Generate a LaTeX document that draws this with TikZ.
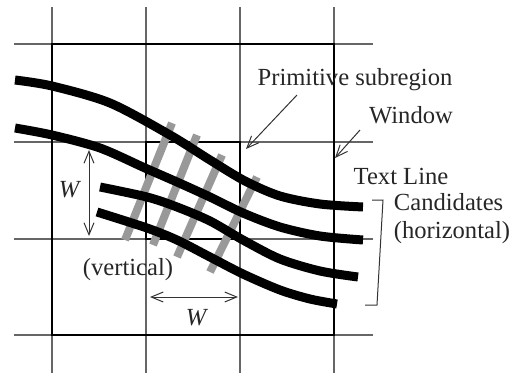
\documentclass[tikz,border=0pt]{standalone}
\usepackage{fontspec}
\setmainfont{Liberation Serif}
\usetikzlibrary{arrows.meta}

\begin{document}
\begin{tikzpicture}[x=0.5pt,y=-0.5pt,
  grid/.style={black!60, line width=0.6pt},
  textline/.style={black, line width=4.5pt},
  vbar/.style={gray!80, line width=4pt},
  ptr/.style={-{Straight Barb[length=6pt,width=5pt]}, black!80, line width=0.5pt},
  dim/.style={{Straight Barb[length=6pt,width=5pt]}-{Straight Barb[length=6pt,width=5pt]}, black!80, line width=0.5pt},
  lbl/.style={font=\fontsize{12.3}{14}\selectfont, text=black!85, inner sep=0pt}]
\useasboundingbox (0,0) rectangle (515,376);

% Grid
\foreach \x in {52,146,240,334} \draw[grid] (\x,7) -- (\x,373);
\foreach \y in {44,142,239,335} \draw[grid] (14,\y) -- (373,\y);

% Window and primitive subregion
\draw[line width=1.3pt] (52,44) rectangle (334,335);
\draw[line width=0.9pt] (146,142) rectangle (240,239);

% Vertical candidates
\draw[vbar] (172,123) -- (125,240);
\draw[vbar] (197,135) -- (153,245);
\draw[vbar] (222,155) -- (177,257);
\draw[vbar] (257,177) -- (210,272);

% Horizontal candidates
\draw[textline] plot[smooth] coordinates {(15,80) (52,86) (110,103) (170,135) (210,160) (245,181) (280,196) (320,204) (363,207)};
\draw[textline] plot[smooth] coordinates {(15,128) (52,135) (100,148) (145,168) (177,182) (210,197) (243,213) (280,227) (320,236) (363,240)};
\draw[textline] plot[smooth] coordinates {(100,187) (147,197) (177,207) (210,221) (243,240) (280,259) (320,271) (358,277)};
\draw[textline] plot[smooth] coordinates {(97,212) (147,228) (177,240) (210,257) (243,274) (280,290) (310,299) (337,304)};

% Labels
\node[lbl] (prim) at (355,80) {Primitive subregion};
\node[lbl] (win) at (411,115) {Window};
\node[lbl] (tl) at (401,176) {Text Line};
\node[lbl, align=left] (cand) at (452,219) {Candidates\\(horizontal)};
\node[lbl] (vert) at (128,270) {(vertical)};
\node[lbl] (wv) at (70,190) {\textit{W}};
\node[lbl] (wh) at (197,318) {\textit{W}};

% Pointers
\coordinate (primtail) at (297,95);
\coordinate (primtip) at (246,149);
\coordinate (wintail) at (360,130);
\coordinate (wintip) at (335,158);
\draw[ptr] (primtail) -- (primtip);
\draw[ptr] (wintail) -- (wintip);

% Widths
\coordinate (vtop) at (89,150);
\coordinate (vbot) at (89,236);
\coordinate (hleft) at (150,297);
\coordinate (hright) at (238,297);
\draw[dim] (vtop) -- (vbot);
\draw[dim] (hleft) -- (hright);

% Bracket
\draw[black!80, line width=0.5pt] (372,200) -- (383,200) -- (377,305) -- (365,305);
\end{tikzpicture}
\end{document}
